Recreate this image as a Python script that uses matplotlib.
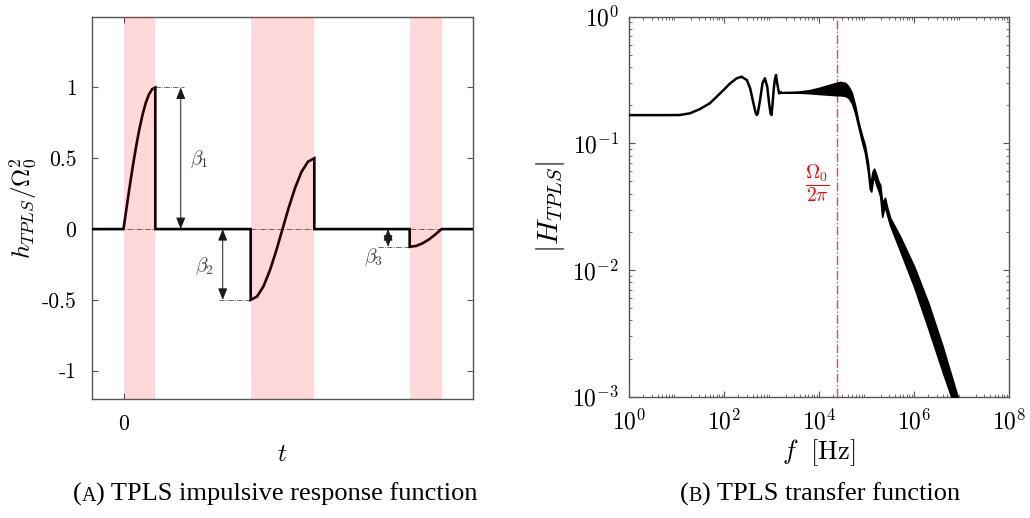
import numpy as np
import matplotlib
matplotlib.use('Agg')
import matplotlib.pyplot as plt
from matplotlib.ticker import LogLocator, NullFormatter

plt.rcParams['mathtext.fontset'] = 'cm'
plt.rcParams['font.family'] = ['DejaVu Sans']

# ---------------- Panel A data ----------------
t_rise = [0.0, 0.1, 0.2, 0.3, 0.4, 0.5, 0.6, 0.7, 0.8, 0.9, 1.0]
h_rise = [0.0, 0.156, 0.309, 0.454, 0.588, 0.707, 0.809, 0.891, 0.951, 0.988, 1.0]
t_mid = [4.0, 4.2, 4.4, 4.6, 4.8, 5.0, 5.2, 5.4, 5.6, 5.8, 6.0]
h_mid = [-0.5, -0.476, -0.405, -0.294, -0.155, 0.0, 0.155, 0.294, 0.405, 0.476, 0.5]
t_tail = [9.0, 9.2, 9.4, 9.6, 9.8, 10.0]
h_tail = [-0.125, -0.119, -0.101, -0.074, -0.039, 0.0]
band_start = [0, 4, 9]
band_end = [1, 6, 10]
beta_t = [1.8, 3.12, 8.32]
beta_amp = [1.0, -0.5, -0.125]
ref_from = [1.0, 3.0, 8.0]
ref_to = [1.9, 4.0, 9.0]
beta_names = [r'$\beta_1$', r'$\beta_2$', r'$\beta_3$']
beta_label_t = [2.38, 2.55, 7.85]
beta_label_h = [0.49, -0.265, -0.2]
yticks_a = [-1, -0.5, 0, 0.5, 1]
yticklabels_a = ['-1', '-0.5', '0', '0.5', '1']

# ---------------- Panel B data (log10 values) ----------------
log_f_line = [0.0, 0.8, 1.07, 1.28, 1.49, 1.70, 1.85, 1.99, 2.13, 2.27, 2.37,
              2.48, 2.55, 2.62, 2.67, 2.69, 2.71, 2.76, 2.81, 2.86, 2.91, 2.95,
              2.98, 3.00, 3.02, 3.05, 3.07, 3.095, 3.12, 3.16, 3.20]
log_H_line = [-0.777, -0.777, -0.776, -0.763, -0.730, -0.684, -0.630, -0.579, -0.526, -0.486, -0.474,
              -0.500, -0.565, -0.684, -0.765, -0.776, -0.765, -0.657, -0.526, -0.486, -0.552, -0.684,
              -0.765, -0.776, -0.700, -0.560, -0.500, -0.460, -0.526, -0.605, -0.598]
log_f_band = [3.16, 3.3, 3.45, 3.6, 3.8, 4.0, 4.2, 4.37, 4.45, 4.55, 4.62, 4.69, 4.76,
              4.83, 4.90, 4.97, 5.03, 5.07, 5.10, 5.13, 5.16, 5.20, 5.25, 5.29, 5.33,
              5.36, 5.39, 5.43, 5.50, 5.70, 6.00, 6.30, 6.60, 6.95]
log_H_upper = [-0.598, -0.594, -0.593, -0.590, -0.580, -0.562, -0.540, -0.522, -0.515, -0.522, -0.550, -0.600, -0.700,
               -0.830, -0.930, -1.020, -1.150, -1.300, -1.280, -1.220, -1.200, -1.240, -1.300, -1.330, -1.470,
               -1.450, -1.430, -1.500, -1.590, -1.730, -1.970, -2.260, -2.600, -3.040]
log_H_lower = [-0.600, -0.598, -0.599, -0.600, -0.604, -0.610, -0.615, -0.620, -0.620, -0.625, -0.640, -0.680, -0.760,
               -0.870, -0.980, -1.080, -1.220, -1.360, -1.380, -1.300, -1.260, -1.320, -1.370, -1.420, -1.580,
               -1.530, -1.500, -1.560, -1.650, -1.840, -2.130, -2.460, -2.800, -3.180]
log_f_omega = 4.385
xticks_b = [1e0, 1e2, 1e4, 1e6, 1e8]
xticklabels_b = [r'$10^0$', r'$10^2$', r'$10^4$', r'$10^6$', r'$10^8$']
yticks_b = [1e-3, 1e-2, 1e-1, 1e0]
yticklabels_b = [r'$10^{-3}$', r'$10^{-2}$', r'$10^{-1}$', r'$10^0$']

W, H = 1030, 518
fig = plt.figure(figsize=(W / 100, H / 100), dpi=100)

spine_col = '#555555'

# ================= Panel A =================
axA = fig.add_axes([91.7 / W, 1 - 399 / H, (473.3 - 91.7) / W, (399 - 16.7) / H])
t_full = [-1] + t_rise + [1, 4] + t_mid + [6, 9] + t_tail + [11]
h_full = [0] + h_rise + [0, 0] + h_mid + [0, 0] + h_tail + [0]
axA.plot(t_full, h_full, color='k', lw=1.9, zorder=3, solid_joinstyle='miter')
axA.axhline(0, color='0.3', lw=0.6, ls='-.', zorder=2)
for a, b in zip(band_start, band_end):
    axA.axvspan(a, b, color='red', alpha=0.15, lw=0, zorder=4)
for amp, a, b in zip(beta_amp, ref_from, ref_to):
    axA.plot([a, b], [amp, amp], color='0.3', lw=0.6, ls='-.', zorder=2)
for x, amp in zip(beta_t, beta_amp):
    axA.annotate('', xy=(x, amp), xytext=(x, 0),
                 arrowprops=dict(arrowstyle='<|-|>,head_length=0.7,head_width=0.28',
                                 color='0.1', lw=0.7, shrinkA=0, shrinkB=0), zorder=5)
for name, x, y in zip(beta_names, beta_label_t, beta_label_h):
    axA.text(x, y, name, fontsize=14, color='0.25', ha='center', va='center')
axA.set_xlim(-1, 11)
axA.set_ylim(-1.2, 1.5)
axA.set_xticks([0])
axA.set_xticklabels(['0'], fontfamily='cmr10', fontsize=15.5)
axA.set_yticks(yticks_a)
axA.set_yticklabels(yticklabels_a, fontfamily='cmr10', fontsize=15.5)
axA.tick_params(direction='in', length=4, width=0.8, color=spine_col,
                left=True, right=True, top=True, bottom=True, pad=11)
axA.set_xlabel(r'$t$', fontsize=18, labelpad=6)
axA.set_ylabel(r'$h_{TPLS}/\Omega_0^2$', fontsize=18, labelpad=2)
for s in axA.spines.values():
    s.set_color(spine_col)
    s.set_linewidth(1.0)

# ================= Panel B =================
axB = fig.add_axes([629 / W, 1 - 396.7 / H, (1009 - 629) / W, (396.7 - 16.7) / H])
fl = 10 ** np.array(log_f_line)
Hl = 10 ** np.array(log_H_line)
axB.plot(fl, Hl, color='k', lw=1.8, zorder=3)
fb = 10 ** np.array(log_f_band)
axB.fill_between(fb, 10 ** np.array(log_H_lower), 10 ** np.array(log_H_upper),
                 facecolor='k', edgecolor='k', lw=1.2, zorder=3)
axB.axvline(10 ** log_f_omega, color='#f04545', lw=1.0, ls='-.', zorder=2)
axB.text(10 ** 3.97, 10 ** -1.313, r'$\dfrac{\Omega_0}{2\pi}$', color='red',
         fontsize=14, ha='center', va='center')
axB.set_xscale('log')
axB.set_yscale('log')
axB.set_xlim(1e0, 1e8)
axB.set_ylim(1e-3, 1e0)
axB.set_xticks(xticks_b)
axB.set_xticklabels(xticklabels_b, fontsize=17)
axB.set_yticks(yticks_b)
axB.set_yticklabels(yticklabels_b, fontsize=17)
axB.xaxis.set_minor_locator(LogLocator(base=10, subs=np.arange(2, 10), numticks=20))
axB.yaxis.set_minor_locator(LogLocator(base=10, subs=np.arange(2, 10), numticks=20))
axB.xaxis.set_minor_formatter(NullFormatter())
axB.yaxis.set_minor_formatter(NullFormatter())
axB.tick_params(which='major', direction='in', length=4, width=0.8, color=spine_col,
                left=True, right=True, top=True, bottom=True, pad=9)
axB.tick_params(which='minor', direction='in', length=2, width=0.6, color=spine_col,
                left=True, right=True, top=True, bottom=True)
axB.tick_params(axis='y', which='major', pad=7)
axB.set_xlabel(r'$f\ \ [\mathrm{Hz}]$', fontsize=19, labelpad=2)
axB.set_ylabel(r'$|H_{TPLS}|$', fontsize=21, labelpad=4)
for s in axB.spines.values():
    s.set_color(spine_col)
    s.set_linewidth(1.0)

# ================= Captions (with small-caps panel letter) =================
renderer = fig.canvas.get_renderer()


def caption(xc_px, yb_px, letter, rest):
    pieces = [('(', 19), (letter, 14.5), (rest, 19)]
    texts = []
    for s, fs in pieces:
        texts.append(fig.text(0, 1 - yb_px / H, s, fontfamily='Liberation Serif',
                              fontsize=fs, ha='left', va='baseline'))
    widths = [t.get_window_extent(renderer).width for t in texts]
    x = xc_px - sum(widths) / 2
    for t, w in zip(texts, widths):
        t.set_x(x / W)
        x += w


caption(275, 501, 'A', ') TPLS impulsive response function')
caption(820, 501, 'B', ') TPLS transfer function')

fig.savefig('out.png', dpi=100)
